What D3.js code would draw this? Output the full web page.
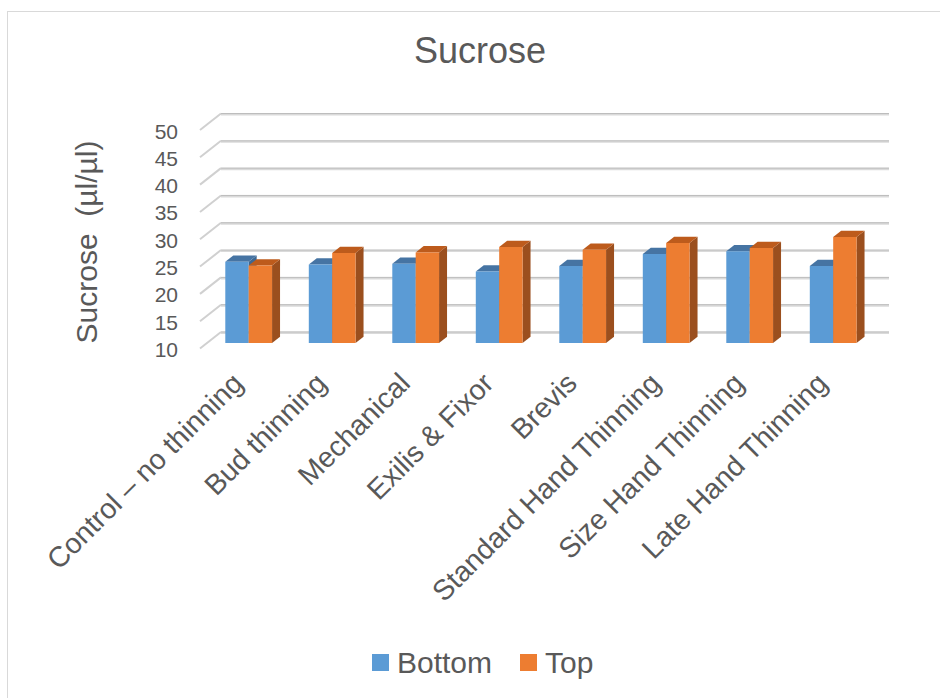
<!DOCTYPE html>
<html>
<head>
<meta charset="utf-8">
<script src="https://cdn.jsdelivr.net/npm/d3@7"></script>
<style>
  html, body { margin: 0; padding: 0; background: #fff; }
  svg text { font-family: "Liberation Sans", Arial, sans-serif; fill: #595959; }
</style>
</head>
<body>
<svg id="chart" width="940" height="698"></svg>
<script>
// Sucrose content per thinning treatment, bottom vs top of canopy
const categories = [
  "Control – no thinning", "Bud thinning", "Mechanical", "Exilis & Fixor",
  "Brevis", "Standard Hand Thinning", "Size Hand Thinning", "Late Hand Thinning"
];
const seriesNames = ["Bottom", "Top"];
const bottomValues = [24.9, 24.4, 24.5, 23.1, 24.1, 26.3, 26.8, 24.1];
const topValues    = [24.2, 26.5, 26.6, 27.6, 27.1, 28.3, 27.4, 29.4];
const yTicks = [10, 15, 20, 25, 30, 35, 40, 45, 50];

const svg = d3.select("#chart");

// Oblique 3D projection: depth 0 = front plane, depth 1 = back wall
const DX = 21, DY = -16.5;
const x = d3.scaleBand().domain(categories).range([200, 868])
  .paddingInner(0.44).paddingOuter(0.22);
const xs = d3.scaleBand().domain(seriesNames).range([0, x.bandwidth()]);
const y = d3.scaleLinear().domain([10, 50]).range([348.5, 130]);
const proj = (px, v, d) => [px + d * DX, y(v) + d * DY];

const colors = {
  Bottom: { front: "#5b9bd5", top: "#4674a3", side: "#3d6893" },
  Top:    { front: "#ed7d31", top: "#bd5b1c", side: "#9b4f1e" }
};

// Chart frame
svg.append("rect")
  .attr("x", 7.5).attr("y", 11.5).attr("width", 940).attr("height", 700)
  .attr("fill", "none").attr("stroke", "#d9d9d9").attr("stroke-width", 1);

// Title
svg.append("text")
  .attr("x", 480).attr("y", 63).attr("text-anchor", "middle")
  .style("font-size", "36px").text("Sucrose");

// Gridlines on back wall and left side wall
const grid = svg.append("g");
yTicks.forEach(t => {
  const [bx0, by] = proj(x.range()[0], t, 1);
  const [bx1] = proj(x.range()[1], t, 1);
  const [fx, fy] = proj(x.range()[0], t, 0);
  grid.append("line").attr("x1", bx0).attr("x2", bx1).attr("y1", by + 0.8).attr("y2", by + 0.8)
    .attr("stroke", "#dadada").attr("stroke-width", 2.4);
  grid.append("line").attr("x1", bx0).attr("x2", bx1).attr("y1", by).attr("y2", by)
    .attr("stroke", "#bdbdbd").attr("stroke-width", 1);
  grid.append("line").attr("x1", fx).attr("y1", fy).attr("x2", bx0).attr("y2", by)
    .attr("stroke", "#d0d0d0").attr("stroke-width", 2);
});

// Value axis tick labels
svg.append("g").selectAll("text").data(yTicks).join("text")
  .attr("x", 178).attr("y", d => y(d) + 1)
  .attr("text-anchor", "end").attr("dominant-baseline", "central")
  .style("font-size", "21px").text(d => d);

// Axis title
svg.append("text")
  .attr("transform", "translate(97,242) rotate(-90)")
  .attr("text-anchor", "middle")
  .style("font-size", "30px").style("white-space", "pre")
  .text("Sucrose  (µl/µl)");

// 3D bars
const d0 = 0.33, d1 = 0.71;
const rows = [];
categories.forEach((c, i) => {
  rows.push({ cat: c, series: "Bottom", value: bottomValues[i] });
  rows.push({ cat: c, series: "Top", value: topValues[i] });
});
const poly = pts => pts.map(p => p.join(",")).join(" ");
const bars = svg.append("g").selectAll("g").data(rows).join("g");
bars.each(function(r) {
  const g = d3.select(this);
  const xl = x(r.cat) + xs(r.series);
  const xr = xl + xs.bandwidth();
  const c = colors[r.series];
  // side face
  g.append("polygon").attr("fill", c.side).attr("points", poly([
    proj(xr, 10, d0), proj(xr, r.value, d0), proj(xr, r.value, d1), proj(xr, 10, d1)
  ]));
  // top face
  g.append("polygon").attr("fill", c.top).attr("points", poly([
    proj(xl, r.value, d0), proj(xr, r.value, d0), proj(xr, r.value, d1), proj(xl, r.value, d1)
  ]));
  // front face
  g.append("polygon").attr("fill", c.front).attr("points", poly([
    proj(xl, 10, d0), proj(xr, 10, d0), proj(xr, r.value, d0), proj(xl, r.value, d0)
  ]));
});

// Category labels, rotated
svg.append("g").selectAll("text").data(categories).join("text")
  .attr("transform", d => {
    const cx = x(d) + x.bandwidth() / 2 + d0 * DX;
    return `translate(${cx - 4},385) rotate(-45)`;
  })
  .attr("text-anchor", "end")
  .style("font-size", "28.5px").text(d => d);

// Legend
const legend = svg.append("g");
const legendItems = [
  { name: seriesNames[0], color: colors.Bottom.front, x: 372 },
  { name: seriesNames[1], color: colors.Top.front, x: 520 }
];
legendItems.forEach(it => {
  legend.append("rect").attr("x", it.x).attr("y", 654).attr("width", 17).attr("height", 17)
    .attr("fill", it.color);
  legend.append("text").attr("x", it.x + 25).attr("y", 673)
    .style("font-size", "30px").text(it.name);
});
</script>
</body>
</html>
